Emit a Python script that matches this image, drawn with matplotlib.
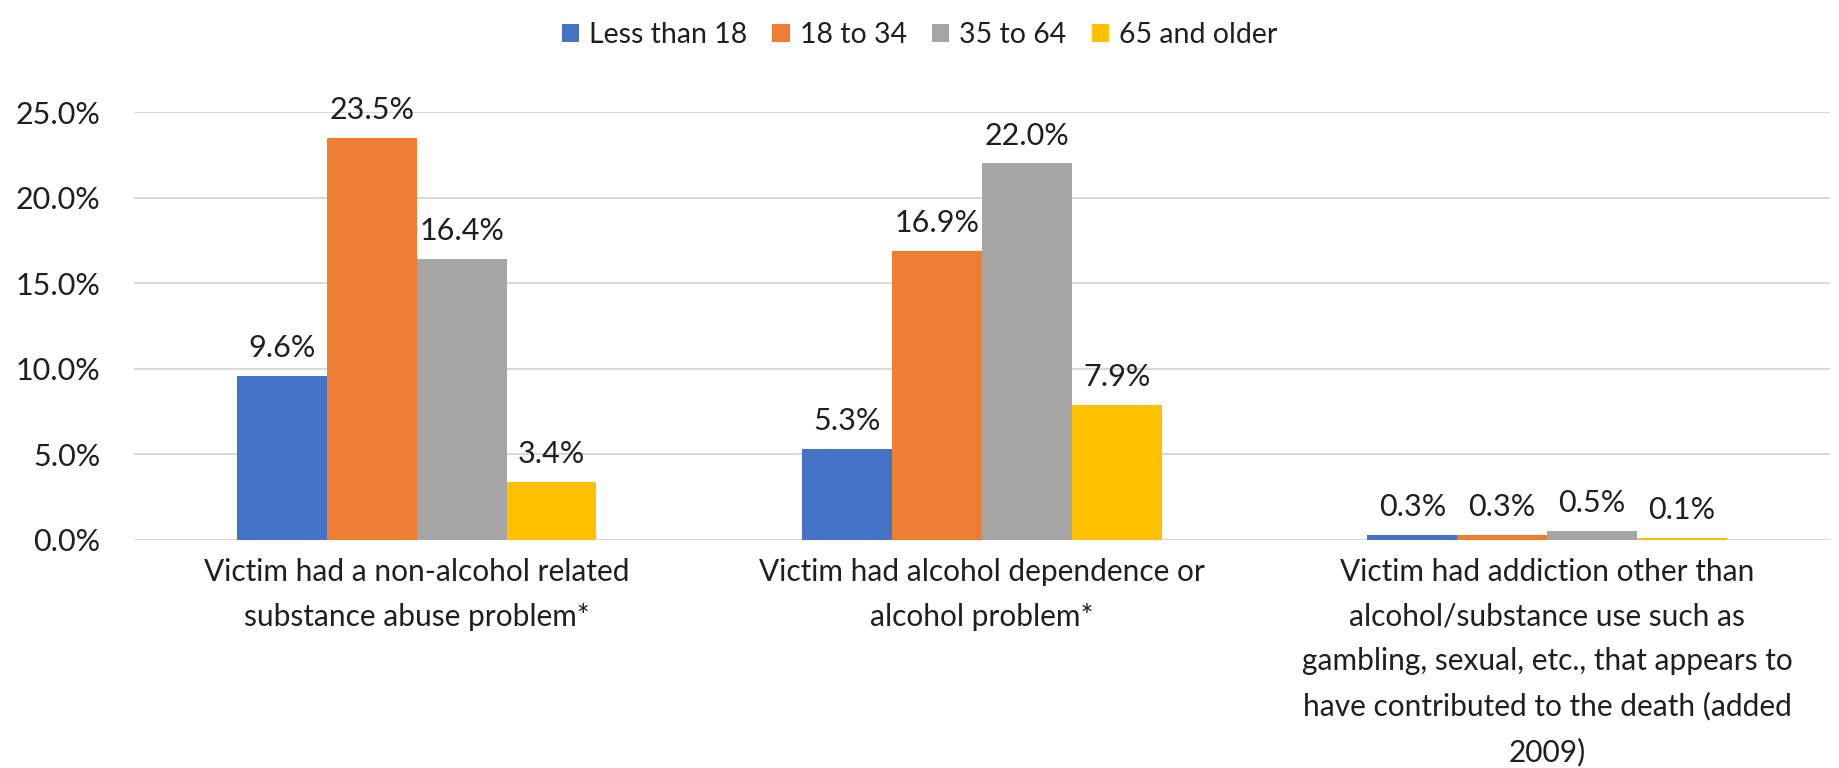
import matplotlib.pyplot as plt
import numpy as np
from matplotlib.ticker import FuncFormatter

# age groups and their share of victims for each circumstance
age_groups = ["Less than 18", "18 to 34", "35 to 64", "65 and older"]
categories = [
    "Victim had a non-alcohol related\nsubstance abuse problem*",
    "Victim had alcohol dependence or\nalcohol problem*",
    "Victim had addiction other than\nalcohol/substance use such as\n"
    "gambling, sexual, etc., that appears to\nhave contributed to the death (added\n2009)",
]
under_18 = [9.6, 5.3, 0.3]
age_18_34 = [23.5, 16.9, 0.3]
age_35_64 = [16.4, 22.0, 0.5]
age_65_up = [3.4, 7.9, 0.1]
series = [under_18, age_18_34, age_35_64, age_65_up]
colors = ["#4472C4", "#ED7D31", "#A5A5A5", "#FFC000"]

plt.rcParams["font.family"] = ["Lato", "DejaVu Sans"]
text_col = "#1f1f1f"

fig = plt.figure(figsize=(18.39, 7.68), dpi=100)
ax = fig.add_axes([0.0729, 0.297, 0.9221, 0.557])

x = np.arange(len(categories))
bar_w = 0.159
offsets = (np.arange(len(series)) - 1.5) * bar_w

for vals, off, col, name in zip(series, offsets, colors, age_groups):
    bars = ax.bar(x + off, vals, width=bar_w, color=col, label=name, zorder=3)
    for b, v in zip(bars, vals):
        ax.annotate(f"{v:.1f}%", (b.get_x() + b.get_width() / 2, v),
                    xytext=(0, 10), textcoords="offset points",
                    ha="center", va="bottom", fontsize=22, color=text_col)

ax.set_xlim(-0.5, len(categories) - 0.5)
ax.set_ylim(0, 25)
ax.set_yticks(np.arange(0, 25.1, 5))
ax.yaxis.set_major_formatter(FuncFormatter(lambda v, _: f"{v:.1f}%"))
ax.grid(axis="y", color="#D9D9D9", linewidth=1.5, zorder=0)
ax.set_axisbelow(True)
for s in ax.spines.values():
    s.set_visible(False)

ax.set_xticks(x)
ax.set_xticklabels(categories, fontsize=21.5, color=text_col, linespacing=1.72)
ax.tick_params(axis="x", length=0, pad=13)
ax.tick_params(axis="y", length=0, pad=24, labelsize=22, labelcolor=text_col)

fig.legend(loc="upper center", bbox_to_anchor=(0.5, 1.005), ncol=4, frameon=False,
           fontsize=20.5, handlelength=0.6, handleheight=0.6, handletextpad=0.35,
           columnspacing=0.9, labelcolor=text_col)

fig.savefig("out.png", dpi=100)
